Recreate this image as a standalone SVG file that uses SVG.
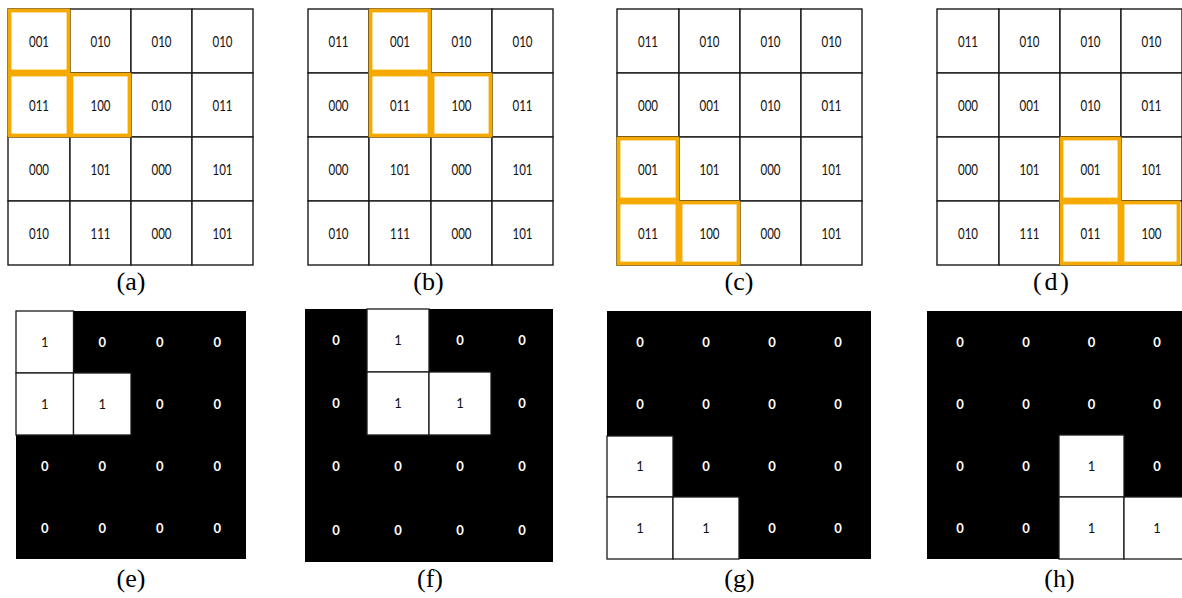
<svg xmlns="http://www.w3.org/2000/svg" width="1182" height="598" viewBox="0 0 1182 598">
  <style>
    .cell { fill: #ffffff; stroke: #1a1a1a; stroke-width: 1.4; }
    .dark { fill: #000000; }
    .wcell { fill: #ffffff; stroke: #1a1a1a; stroke-width: 1.3; }
    .hl { fill: none; stroke: #F6AA00; stroke-width: 3.8; stroke-linejoin: miter; }
    .code { font-family: Lato, "DejaVu Sans", sans-serif; font-size: 14.5px; fill: #111111; text-anchor: middle; }
    .bit1 { font-family: Lato, "DejaVu Sans", sans-serif; font-size: 13px; fill: #111111; text-anchor: middle; }
    .bit0 { font-family: Lato, "DejaVu Sans", sans-serif; font-size: 13px; font-weight: 700; fill: #ffffff; text-anchor: middle; }
    .cap { font-family: "Liberation Serif", "Times New Roman", serif; font-size: 26px; fill: #000000; text-anchor: middle; }
  </style>
  <rect width="1182" height="598" fill="#ffffff"/>

  <!-- (a) 3-bit code grid, window at top-left -->
  <g id="panel-a">
    <rect class="cell" x="8" y="9" width="62" height="64"/><rect class="cell" x="70" y="9" width="61" height="64"/><rect class="cell" x="131" y="9" width="61" height="64"/><rect class="cell" x="192" y="9" width="61" height="64"/>
    <rect class="cell" x="8" y="73" width="62" height="64"/><rect class="cell" x="70" y="73" width="61" height="64"/><rect class="cell" x="131" y="73" width="61" height="64"/><rect class="cell" x="192" y="73" width="61" height="64"/>
    <rect class="cell" x="8" y="137" width="62" height="64"/><rect class="cell" x="70" y="137" width="61" height="64"/><rect class="cell" x="131" y="137" width="61" height="64"/><rect class="cell" x="192" y="137" width="61" height="64"/>
    <rect class="cell" x="8" y="201" width="62" height="64"/><rect class="cell" x="70" y="201" width="61" height="64"/><rect class="cell" x="131" y="201" width="61" height="64"/><rect class="cell" x="192" y="201" width="61" height="64"/>
    <g class="code">
      <text x="39" y="46.5" textLength="20" lengthAdjust="spacingAndGlyphs">001</text><text x="100.5" y="46.5" textLength="20" lengthAdjust="spacingAndGlyphs">010</text><text x="161.5" y="46.5" textLength="20" lengthAdjust="spacingAndGlyphs">010</text><text x="222.5" y="46.5" textLength="20" lengthAdjust="spacingAndGlyphs">010</text>
      <text x="39" y="110.5" textLength="20" lengthAdjust="spacingAndGlyphs">011</text><text x="100.5" y="110.5" textLength="20" lengthAdjust="spacingAndGlyphs">100</text><text x="161.5" y="110.5" textLength="20" lengthAdjust="spacingAndGlyphs">010</text><text x="222.5" y="110.5" textLength="20" lengthAdjust="spacingAndGlyphs">011</text>
      <text x="39" y="174.5" textLength="20" lengthAdjust="spacingAndGlyphs">000</text><text x="100.5" y="174.5" textLength="20" lengthAdjust="spacingAndGlyphs">101</text><text x="161.5" y="174.5" textLength="20" lengthAdjust="spacingAndGlyphs">000</text><text x="222.5" y="174.5" textLength="20" lengthAdjust="spacingAndGlyphs">101</text>
      <text x="39" y="238.5" textLength="20" lengthAdjust="spacingAndGlyphs">010</text><text x="100.5" y="238.5" textLength="20" lengthAdjust="spacingAndGlyphs">111</text><text x="161.5" y="238.5" textLength="20" lengthAdjust="spacingAndGlyphs">000</text><text x="222.5" y="238.5" textLength="20" lengthAdjust="spacingAndGlyphs">101</text>
    </g>
    <rect class="hl" x="9.5" y="10.5" width="59" height="61"/>
    <rect class="hl" x="9.5" y="74.5" width="59" height="61"/>
    <rect class="hl" x="71.5" y="74.5" width="58" height="61"/>
    <text class="cap" x="131" y="290">(a)</text>
  </g>

  <!-- (b) window shifted one column right -->
  <g id="panel-b">
    <rect class="cell" x="308" y="9" width="61" height="64"/><rect class="cell" x="369" y="9" width="62" height="64"/><rect class="cell" x="431" y="9" width="61" height="64"/><rect class="cell" x="492" y="9" width="61" height="64"/>
    <rect class="cell" x="308" y="73" width="61" height="64"/><rect class="cell" x="369" y="73" width="62" height="64"/><rect class="cell" x="431" y="73" width="61" height="64"/><rect class="cell" x="492" y="73" width="61" height="64"/>
    <rect class="cell" x="308" y="137" width="61" height="64"/><rect class="cell" x="369" y="137" width="62" height="64"/><rect class="cell" x="431" y="137" width="61" height="64"/><rect class="cell" x="492" y="137" width="61" height="64"/>
    <rect class="cell" x="308" y="201" width="61" height="64"/><rect class="cell" x="369" y="201" width="62" height="64"/><rect class="cell" x="431" y="201" width="61" height="64"/><rect class="cell" x="492" y="201" width="61" height="64"/>
    <g class="code">
      <text x="338.5" y="46.5" textLength="20" lengthAdjust="spacingAndGlyphs">011</text><text x="400" y="46.5" textLength="20" lengthAdjust="spacingAndGlyphs">001</text><text x="461.5" y="46.5" textLength="20" lengthAdjust="spacingAndGlyphs">010</text><text x="522.5" y="46.5" textLength="20" lengthAdjust="spacingAndGlyphs">010</text>
      <text x="338.5" y="110.5" textLength="20" lengthAdjust="spacingAndGlyphs">000</text><text x="400" y="110.5" textLength="20" lengthAdjust="spacingAndGlyphs">011</text><text x="461.5" y="110.5" textLength="20" lengthAdjust="spacingAndGlyphs">100</text><text x="522.5" y="110.5" textLength="20" lengthAdjust="spacingAndGlyphs">011</text>
      <text x="338.5" y="174.5" textLength="20" lengthAdjust="spacingAndGlyphs">000</text><text x="400" y="174.5" textLength="20" lengthAdjust="spacingAndGlyphs">101</text><text x="461.5" y="174.5" textLength="20" lengthAdjust="spacingAndGlyphs">000</text><text x="522.5" y="174.5" textLength="20" lengthAdjust="spacingAndGlyphs">101</text>
      <text x="338.5" y="238.5" textLength="20" lengthAdjust="spacingAndGlyphs">010</text><text x="400" y="238.5" textLength="20" lengthAdjust="spacingAndGlyphs">111</text><text x="461.5" y="238.5" textLength="20" lengthAdjust="spacingAndGlyphs">000</text><text x="522.5" y="238.5" textLength="20" lengthAdjust="spacingAndGlyphs">101</text>
    </g>
    <rect class="hl" x="370.5" y="10.5" width="59" height="61"/>
    <rect class="hl" x="370.5" y="74.5" width="59" height="61"/>
    <rect class="hl" x="432.5" y="74.5" width="58" height="61"/>
    <text class="cap" x="428.5" y="290">(b)</text>
  </g>

  <!-- (c) window at bottom-left -->
  <g id="panel-c">
    <rect class="cell" x="617" y="9" width="62" height="64"/><rect class="cell" x="679" y="9" width="61" height="64"/><rect class="cell" x="740" y="9" width="61" height="64"/><rect class="cell" x="801" y="9" width="61" height="64"/>
    <rect class="cell" x="617" y="73" width="62" height="64"/><rect class="cell" x="679" y="73" width="61" height="64"/><rect class="cell" x="740" y="73" width="61" height="64"/><rect class="cell" x="801" y="73" width="61" height="64"/>
    <rect class="cell" x="617" y="137" width="62" height="64"/><rect class="cell" x="679" y="137" width="61" height="64"/><rect class="cell" x="740" y="137" width="61" height="64"/><rect class="cell" x="801" y="137" width="61" height="64"/>
    <rect class="cell" x="617" y="201" width="62" height="64"/><rect class="cell" x="679" y="201" width="61" height="64"/><rect class="cell" x="740" y="201" width="61" height="64"/><rect class="cell" x="801" y="201" width="61" height="64"/>
    <g class="code">
      <text x="648" y="46.5" textLength="20" lengthAdjust="spacingAndGlyphs">011</text><text x="709.5" y="46.5" textLength="20" lengthAdjust="spacingAndGlyphs">010</text><text x="770.5" y="46.5" textLength="20" lengthAdjust="spacingAndGlyphs">010</text><text x="831.5" y="46.5" textLength="20" lengthAdjust="spacingAndGlyphs">010</text>
      <text x="648" y="110.5" textLength="20" lengthAdjust="spacingAndGlyphs">000</text><text x="709.5" y="110.5" textLength="20" lengthAdjust="spacingAndGlyphs">001</text><text x="770.5" y="110.5" textLength="20" lengthAdjust="spacingAndGlyphs">010</text><text x="831.5" y="110.5" textLength="20" lengthAdjust="spacingAndGlyphs">011</text>
      <text x="648" y="174.5" textLength="20" lengthAdjust="spacingAndGlyphs">001</text><text x="709.5" y="174.5" textLength="20" lengthAdjust="spacingAndGlyphs">101</text><text x="770.5" y="174.5" textLength="20" lengthAdjust="spacingAndGlyphs">000</text><text x="831.5" y="174.5" textLength="20" lengthAdjust="spacingAndGlyphs">101</text>
      <text x="648" y="238.5" textLength="20" lengthAdjust="spacingAndGlyphs">011</text><text x="709.5" y="238.5" textLength="20" lengthAdjust="spacingAndGlyphs">100</text><text x="770.5" y="238.5" textLength="20" lengthAdjust="spacingAndGlyphs">000</text><text x="831.5" y="238.5" textLength="20" lengthAdjust="spacingAndGlyphs">101</text>
    </g>
    <rect class="hl" x="618.5" y="138.5" width="59" height="61"/>
    <rect class="hl" x="618.5" y="202.5" width="59" height="61"/>
    <rect class="hl" x="680.5" y="202.5" width="58" height="61"/>
    <text class="cap" x="739" y="290">(c)</text>
  </g>

  <!-- (d) window at bottom-right -->
  <g id="panel-d">
    <rect class="cell" x="937" y="9" width="62" height="64"/><rect class="cell" x="999" y="9" width="61" height="64"/><rect class="cell" x="1060" y="9" width="61" height="64"/><rect class="cell" x="1121" y="9" width="61" height="64"/>
    <rect class="cell" x="937" y="73" width="62" height="64"/><rect class="cell" x="999" y="73" width="61" height="64"/><rect class="cell" x="1060" y="73" width="61" height="64"/><rect class="cell" x="1121" y="73" width="61" height="64"/>
    <rect class="cell" x="937" y="137" width="62" height="64"/><rect class="cell" x="999" y="137" width="61" height="64"/><rect class="cell" x="1060" y="137" width="61" height="64"/><rect class="cell" x="1121" y="137" width="61" height="64"/>
    <rect class="cell" x="937" y="201" width="62" height="64"/><rect class="cell" x="999" y="201" width="61" height="64"/><rect class="cell" x="1060" y="201" width="61" height="64"/><rect class="cell" x="1121" y="201" width="61" height="64"/>
    <g class="code">
      <text x="968" y="46.5" textLength="20" lengthAdjust="spacingAndGlyphs">011</text><text x="1029.5" y="46.5" textLength="20" lengthAdjust="spacingAndGlyphs">010</text><text x="1090.5" y="46.5" textLength="20" lengthAdjust="spacingAndGlyphs">010</text><text x="1151.5" y="46.5" textLength="20" lengthAdjust="spacingAndGlyphs">010</text>
      <text x="968" y="110.5" textLength="20" lengthAdjust="spacingAndGlyphs">000</text><text x="1029.5" y="110.5" textLength="20" lengthAdjust="spacingAndGlyphs">001</text><text x="1090.5" y="110.5" textLength="20" lengthAdjust="spacingAndGlyphs">010</text><text x="1151.5" y="110.5" textLength="20" lengthAdjust="spacingAndGlyphs">011</text>
      <text x="968" y="174.5" textLength="20" lengthAdjust="spacingAndGlyphs">000</text><text x="1029.5" y="174.5" textLength="20" lengthAdjust="spacingAndGlyphs">101</text><text x="1090.5" y="174.5" textLength="20" lengthAdjust="spacingAndGlyphs">001</text><text x="1151.5" y="174.5" textLength="20" lengthAdjust="spacingAndGlyphs">101</text>
      <text x="968" y="238.5" textLength="20" lengthAdjust="spacingAndGlyphs">010</text><text x="1029.5" y="238.5" textLength="20" lengthAdjust="spacingAndGlyphs">111</text><text x="1090.5" y="238.5" textLength="20" lengthAdjust="spacingAndGlyphs">011</text><text x="1151.5" y="238.5" textLength="20" lengthAdjust="spacingAndGlyphs">100</text>
    </g>
    <rect class="hl" x="1061.5" y="138.5" width="58" height="61"/>
    <rect class="hl" x="1061.5" y="202.5" width="58" height="61"/>
    <rect class="hl" x="1122.5" y="202.5" width="56" height="61"/>
    <text class="cap" x="1051" y="290" textLength="36" lengthAdjust="spacing">(d)</text>
  </g>

  <!-- (e) binary mask for window (a) -->
  <g id="panel-e">
    <rect class="dark" x="16" y="311" width="230" height="248"/>
    <rect class="wcell" x="16" y="311" width="57.5" height="62"/>
    <rect class="wcell" x="16" y="373" width="57.5" height="62"/>
    <rect class="wcell" x="73.5" y="373" width="57.5" height="62"/>
    <text class="bit1" x="44.75" y="346.5">1</text><text class="bit0" x="102.25" y="346.5">0</text><text class="bit0" x="159.75" y="346.5">0</text><text class="bit0" x="217.25" y="346.5">0</text>
    <text class="bit1" x="44.75" y="408.5">1</text><text class="bit1" x="102.25" y="408.5">1</text><text class="bit0" x="159.75" y="408.5">0</text><text class="bit0" x="217.25" y="408.5">0</text>
    <text class="bit0" x="44.75" y="470.5">0</text><text class="bit0" x="102.25" y="470.5">0</text><text class="bit0" x="159.75" y="470.5">0</text><text class="bit0" x="217.25" y="470.5">0</text>
    <text class="bit0" x="44.75" y="532.5">0</text><text class="bit0" x="102.25" y="532.5">0</text><text class="bit0" x="159.75" y="532.5">0</text><text class="bit0" x="217.25" y="532.5">0</text>
    <text class="cap" x="131" y="587">(e)</text>
  </g>

  <!-- (f) binary mask for window (b) -->
  <g id="panel-f">
    <rect class="dark" x="305" y="309" width="248" height="253"/>
    <rect class="wcell" x="367" y="309" width="62" height="63"/>
    <rect class="wcell" x="367" y="372" width="62" height="63"/>
    <rect class="wcell" x="429" y="372" width="62" height="63"/>
    <text class="bit0" x="336" y="345">0</text><text class="bit1" x="398" y="345">1</text><text class="bit0" x="460" y="345">0</text><text class="bit0" x="522" y="345">0</text>
    <text class="bit0" x="336" y="408">0</text><text class="bit1" x="398" y="408">1</text><text class="bit1" x="460" y="408">1</text><text class="bit0" x="522" y="408">0</text>
    <text class="bit0" x="336" y="471">0</text><text class="bit0" x="398" y="471">0</text><text class="bit0" x="460" y="471">0</text><text class="bit0" x="522" y="471">0</text>
    <text class="bit0" x="336" y="534.5">0</text><text class="bit0" x="398" y="534.5">0</text><text class="bit0" x="460" y="534.5">0</text><text class="bit0" x="522" y="534.5">0</text>
    <text class="cap" x="430" y="587">(f)</text>
  </g>

  <!-- (g) binary mask for window (c) -->
  <g id="panel-g">
    <rect class="dark" x="607" y="311" width="264" height="248"/>
    <rect class="wcell" x="607" y="436" width="66" height="61"/>
    <rect class="wcell" x="607" y="497" width="66" height="62"/>
    <rect class="wcell" x="673" y="497" width="66" height="62"/>
    <text class="bit0" x="640" y="346.5">0</text><text class="bit0" x="706" y="346.5">0</text><text class="bit0" x="772" y="346.5">0</text><text class="bit0" x="838" y="346.5">0</text>
    <text class="bit0" x="640" y="409">0</text><text class="bit0" x="706" y="409">0</text><text class="bit0" x="772" y="409">0</text><text class="bit0" x="838" y="409">0</text>
    <text class="bit1" x="640" y="471">1</text><text class="bit0" x="706" y="471">0</text><text class="bit0" x="772" y="471">0</text><text class="bit0" x="838" y="471">0</text>
    <text class="bit1" x="640" y="532.5">1</text><text class="bit1" x="706" y="532.5">1</text><text class="bit0" x="772" y="532.5">0</text><text class="bit0" x="838" y="532.5">0</text>
    <text class="cap" x="739.5" y="587">(g)</text>
  </g>

  <!-- (h) binary mask for window (d) -->
  <g id="panel-h">
    <rect class="dark" x="927" y="311" width="263" height="248"/>
    <rect class="wcell" x="1059" y="435" width="65" height="62"/>
    <rect class="wcell" x="1059" y="497" width="65" height="62"/>
    <rect class="wcell" x="1124" y="497" width="66" height="62"/>
    <text class="bit0" x="960" y="346.5">0</text><text class="bit0" x="1026" y="346.5">0</text><text class="bit0" x="1091.5" y="346.5">0</text><text class="bit0" x="1157" y="346.5">0</text>
    <text class="bit0" x="960" y="408.5">0</text><text class="bit0" x="1026" y="408.5">0</text><text class="bit0" x="1091.5" y="408.5">0</text><text class="bit0" x="1157" y="408.5">0</text>
    <text class="bit0" x="960" y="470.5">0</text><text class="bit0" x="1026" y="470.5">0</text><text class="bit1" x="1091.5" y="470.5">1</text><text class="bit0" x="1157" y="470.5">0</text>
    <text class="bit0" x="960" y="532.5">0</text><text class="bit0" x="1026" y="532.5">0</text><text class="bit1" x="1091.5" y="532.5">1</text><text class="bit1" x="1157" y="532.5">1</text>
    <text class="cap" x="1059.5" y="587">(h)</text>
  </g>
</svg>
